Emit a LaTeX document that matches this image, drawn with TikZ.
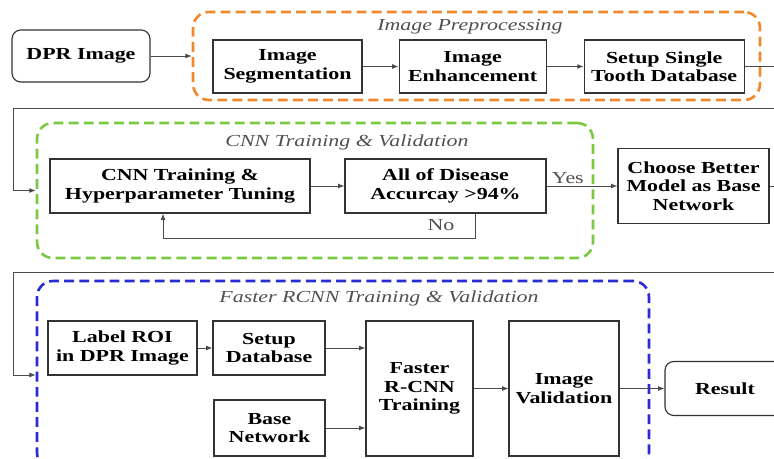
\documentclass[tikz,border=0pt]{standalone}
\usepackage{fontspec}
\setmainfont[FakeStretch=1.3]{Liberation Serif}
\usepackage{tikz}
\usetikzlibrary{arrows.meta, positioning, calc}
\definecolor{BoxInk}{HTML}{333333}
\definecolor{WireInk}{HTML}{4A4A4A}
\definecolor{TitleInk}{HTML}{505050}
\definecolor{PrepInk}{HTML}{F0892E}
\definecolor{CnnInk}{HTML}{7AC943}
\definecolor{RcnnInk}{HTML}{2B2BD6}

\begin{document}
\begin{tikzpicture}[
    x=0.02cm, y=-0.02cm,
    font=\fontsize{9.6}{10.5}\selectfont,
    stage/.style={
      draw=BoxInk,
      line width=0.65pt,
      fill=white,
      align=center,
      inner sep=0pt,
      font=\fontsize{9.6}{10.5}\selectfont\bfseries,
    },
    ends/.style={stage, rounded corners=5pt},
    group/.style={
      draw=#1,
      line width=1.5pt,
      dash pattern=on 5.6pt off 3pt,
      rounded corners=9pt,
      inner sep=0pt,
    },
    grouptitle/.style={font=\fontsize{9.6}{10.5}\selectfont\itshape, text=TitleInk},
    wire/.style={draw=WireInk, line width=0.55pt, -{Latex[length=3.6pt,width=2.8pt]}},
    branch/.style={text=TitleInk, inner sep=1pt},
  ]
    \useasboundingbox (0,0) rectangle (774,459);
    \clip (0,0) rectangle (774,459);

    \node[group=PrepInk, minimum width=11.34cm, minimum height=1.76cm] (prepgrp) at (476.5,56) {};
    \node[group=CnnInk, minimum width=11.12cm, minimum height=2.7cm] (cnngrp) at (315,190.5) {};
    \node[group=RcnnInk, minimum width=12.24cm, minimum height=3.76cm] (rcnngrp) at (343,375) {};

    \node[grouptitle] (preptitle) at (470,27) {Image Preprocessing};
    \node[grouptitle] (cnntitle) at (347,142) {CNN Training \& Validation};
    \node[grouptitle] (rcnntitle) at (379,298) {Faster RCNN Training \& Validation};

    \node[ends, minimum width=2.76cm, minimum height=1.04cm] (dpr) at (81,56) {DPR Image};
    \node[stage, minimum width=2.98cm, minimum height=1.06cm] (seg) at (287.5,66.5) {Image\\Segmentation};
    \node[stage, minimum width=2.94cm, minimum height=1.06cm, right=0.72cm of seg] (enh) {Image\\Enhancement};
    \node[stage, minimum width=3.2cm, minimum height=1.06cm, right=0.74cm of enh] (tooth) {Setup Single\\Tooth Database};

    \node[stage, minimum width=5.2cm, minimum height=1.08cm] (cnntrain) at (180,186) {CNN Training \&\\Hyperparameter Tuning};
    \node[stage, minimum width=4.02cm, minimum height=1.08cm] (acc) at (445.5,186) {All of Disease\\Accurcay >94\%};
    \node[stage, minimum width=3.02cm, minimum height=1.5cm] (choose) at (693.5,186) {Choose Better\\Model as Base\\Network};

    \node[stage, minimum width=2.98cm, minimum height=1.08cm] (roi) at (122.5,348) {Label ROI\\in DPR Image};
    \node[stage, minimum width=2.24cm, minimum height=1.08cm] (setupdb) at (269,348) {Setup\\Database};
    \node[stage, minimum width=2.22cm, minimum height=1.12cm] (base) at (269.5,428) {Base\\Network};
    \node[stage, minimum width=2.14cm, minimum height=2.7cm] (faster) at (419.5,388.5) {Faster\\R-CNN\\Training};
    \node[stage, minimum width=2.2cm, minimum height=2.7cm] (valid) at (564,388.5) {Image\\Validation};
    \node[ends, minimum width=2.4cm, minimum height=1.08cm] (result) at (725,388.5) {Result};

    \coordinate (edge) at (800,0);
    \coordinate (turntop) at (13,108);
    \coordinate (turnmid) at (13,272);
    \coordinate (noturn) at (475,238);
    \coordinate (noback) at (163,238);

    \draw[wire] (dpr.east) -- (dpr.east -| prepgrp.west);
    \draw[wire] (seg) -- (enh);
    \draw[wire] (enh) -- (tooth);
    \draw[wire] (tooth.east) -- (tooth.east -| edge) |- (turntop) |- (cnngrp.west);

    \draw[wire] (cnntrain) -- (acc);
    \draw[wire] (acc) -- (choose) node[branch, pos=0.3, above] {Yes};
    \draw[wire] (acc.south -| noturn) |- (noback) -- (cnntrain.south -| noback);
    \node[branch] (nolabel) at (441,225) {No};
    \draw[wire] (choose.east) -- (choose.east -| edge) |- (turnmid) |- (rcnngrp.west);

    \draw[wire] (roi.east) -- (setupdb.west);
    \draw[wire] (setupdb.east) -- (setupdb.east -| faster.west);
    \draw[wire] (base.east) -- (base.east -| faster.west);
    \draw[wire] (faster) -- (valid);
    \draw[wire] (valid.east) -- (result.west);
  \end{tikzpicture}
\end{document}
